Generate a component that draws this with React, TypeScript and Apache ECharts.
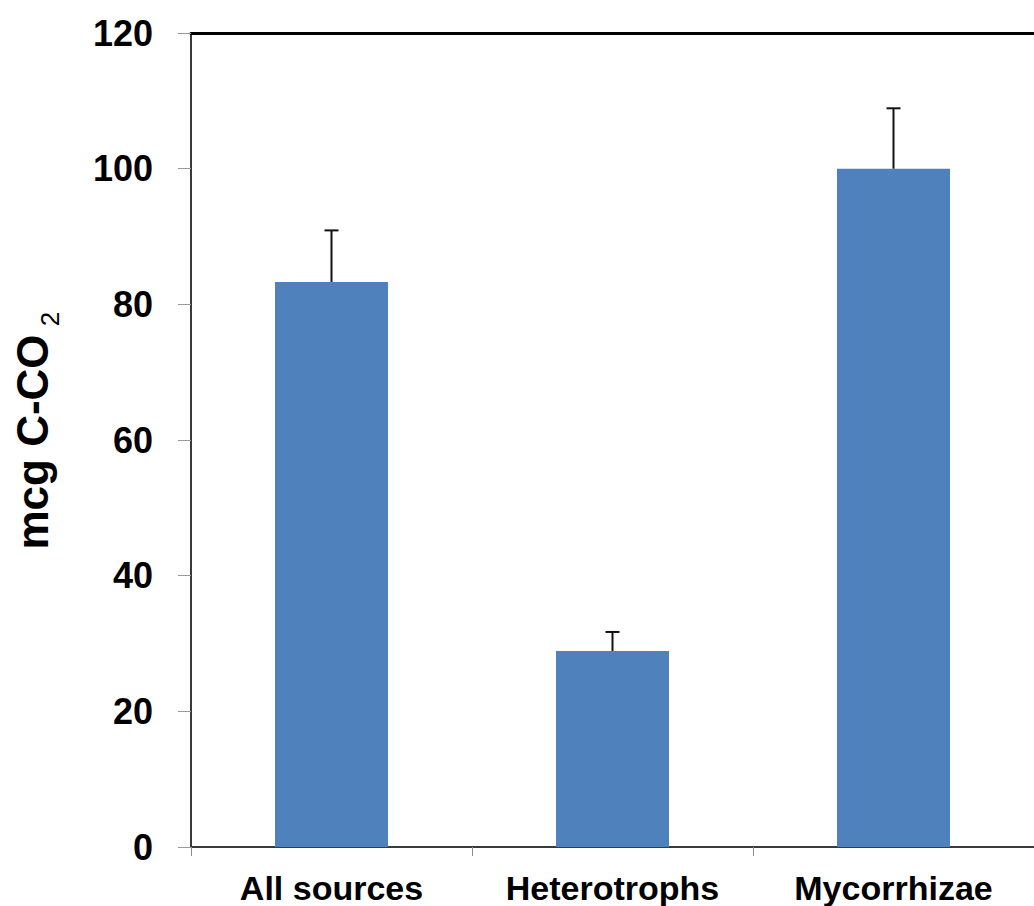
import React, { useEffect, useRef } from "react";
import * as echarts from "echarts";

const categories = ["All sources", "Heterotrophs", "Mycorrhizae"];
const means = [83.3, 28.9, 100.0];
const errors = [7.6, 2.8, 8.9];
const yMin = 0;
const yMax = 120;
const yInterval = 20;
const yTitle = "mcg C-CO";
const yTitleSub = "2";

const FONT = "'Liberation Sans', Arial, sans-serif";

export default function App() {
  const ref = useRef<HTMLDivElement>(null);
  useEffect(() => {
    if (!ref.current) return;
    const chart = echarts.init(ref.current, undefined, { renderer: "svg" });
    const errData = categories.map((_, i) => [i, means[i], means[i] + errors[i]]);
    chart.setOption({
      animation: false,
      backgroundColor: "#ffffff",
      grid: { left: 191, top: 33, width: 846, height: 814, containLabel: false },
      xAxis: [
        {
          type: "category",
          data: categories,
          position: "bottom",
          axisLine: { show: true, lineStyle: { color: "#3a3a3a", width: 2 } },
          axisTick: { show: true, length: 9, lineStyle: { color: "#8c8c8c", width: 1 } },
          axisLabel: {
            margin: 24,
            color: "#000",
            fontFamily: FONT,
            fontWeight: "bold",
            fontSize: 34,
          },
          splitLine: { show: false },
        },
        {
          type: "category",
          data: categories,
          position: "top",
          axisLine: { show: true, lineStyle: { color: "#000", width: 3 } },
          axisTick: { show: false },
          axisLabel: { show: false },
          splitLine: { show: false },
        },
      ],
      yAxis: {
        type: "value",
        min: yMin,
        max: yMax,
        interval: yInterval,
        axisLine: { show: true, lineStyle: { color: "#3a3a3a", width: 2 } },
        axisTick: { show: true, length: 13, lineStyle: { color: "#999", width: 1 } },
        axisLabel: {
          margin: 38,
          color: "#000",
          fontFamily: FONT,
          fontWeight: "bold",
          fontSize: 36,
        },
        splitLine: { show: false },
      },
      graphic: [
        {
          type: "text",
          x: 32,
          y: 442,
          rotation: Math.PI / 2,
          style: {
            text: yTitle,
            align: "center",
            verticalAlign: "middle",
            fill: "#000",
            fontFamily: FONT,
            fontWeight: "bold",
            fontSize: 44,
          },
        },
        {
          type: "text",
          x: 50,
          y: 319,
          rotation: Math.PI / 2,
          style: {
            text: yTitleSub,
            align: "center",
            verticalAlign: "middle",
            fill: "#000",
            fontFamily: FONT,
            fontWeight: "normal",
            fontSize: 26,
          },
        },
      ],
      series: [
        {
          type: "bar",
          data: means,
          barWidth: 113,
          itemStyle: { color: "#4F81BD" },
          z: 2,
        },
        {
          type: "custom",
          data: errData,
          encode: { x: 0, y: [1, 2] },
          z: 3,
          renderItem: (params: any, api: any) => {
            const idx = api.value(0);
            const lo = api.coord([idx, api.value(1)]);
            const hi = api.coord([idx, api.value(2)]);
            const half = 7;
            const style = { stroke: "#111", lineWidth: 2 };
            return {
              type: "group",
              children: [
                { type: "line", shape: { x1: lo[0], y1: lo[1], x2: hi[0], y2: hi[1] }, style },
                { type: "line", shape: { x1: hi[0] - half, y1: hi[1], x2: hi[0] + half, y2: hi[1] }, style },
              ],
            };
          },
        },
      ],
    });
    return () => chart.dispose();
  }, []);
  return (
    <div
      ref={ref}
      style={{ position: "absolute", left: 0, top: 0, width: 1034, height: 906 }}
    />
  );
}
